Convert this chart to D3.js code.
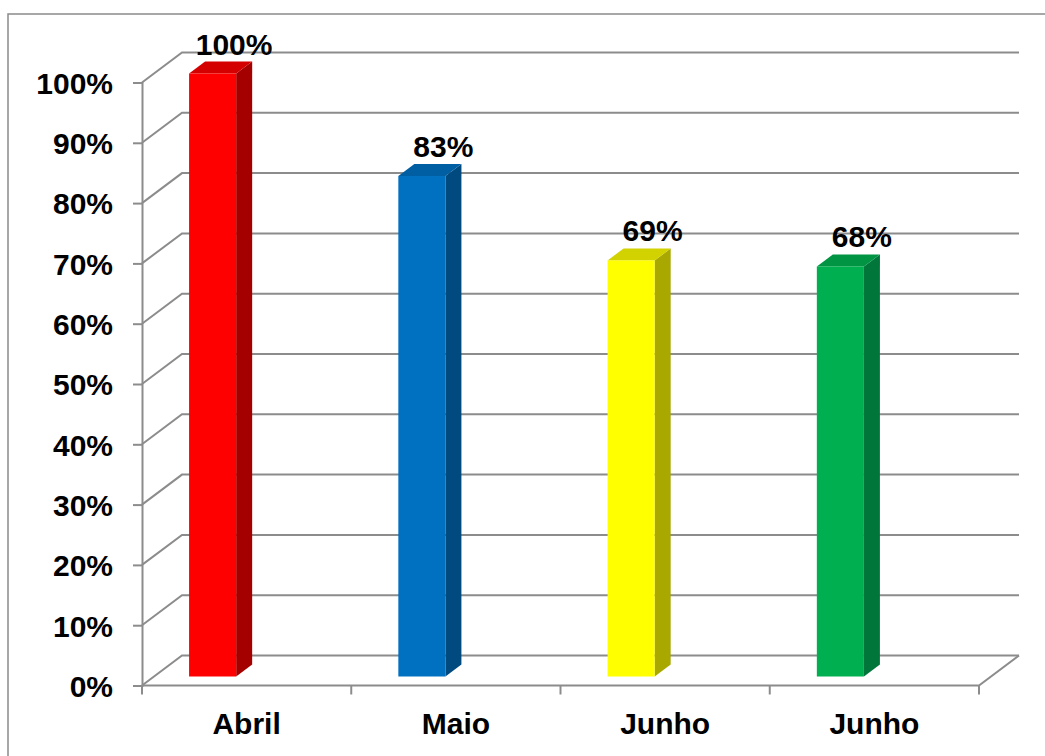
<!DOCTYPE html>
<html>
<head>
<meta charset="utf-8">
<script src="https://cdn.jsdelivr.net/npm/d3@7"></script>
<style>
  html, body { margin: 0; padding: 0; background: #fff; }
  svg { display: block; }
  text { font-family: "Liberation Sans", Arial, sans-serif; font-weight: bold; fill: #000; }
</style>
</head>
<body>
<svg id="chart" width="1045" height="756"></svg>
<script>
// Chart data
const categories = ["Abril", "Maio", "Junho", "Junho"];
const values = [1.00, 0.83, 0.69, 0.68];
const valueLabels = ["100%", "83%", "69%", "68%"];
const tickValues = [0, 0.1, 0.2, 0.3, 0.4, 0.5, 0.6, 0.7, 0.8, 0.9, 1.0];

// Face colours per bar: front, top, side
const frontColors = ["#ff0000", "#0070c0", "#ffff00", "#00b050"];
const topColors   = ["#d40000", "#005ea3", "#d2d200", "#009443"];
const sideColors  = ["#a50000", "#004a7f", "#a8a800", "#00763a"];

const svg = d3.select("#chart");
const gridColor = "#8c8c8c";
const fontSize = 30;

// 3D offsets: back wall depth and bar placement within the floor depth
const wallDx = 40, wallDy = -30;
const barDy = -9;                  // bar front face lift from the front plane
const depthDx = 16, depthDy = -12; // bar thickness

const y = d3.scaleLinear().domain([0, 1]).range([685.5, 82.5]);
const x = d3.scaleBand().domain(d3.range(categories.length)).range([142, 979]).padding(0);
const frontX0 = x.range()[0], frontX1 = x.range()[1];

// Outer chart border
svg.append("rect")
  .attr("x", 8).attr("y", 14).attr("width", 1060).attr("height", 780)
  .attr("fill", "none").attr("stroke", "#8a8a8a").attr("stroke-width", 1.5);

const grid = svg.append("g")
  .attr("fill", "none").attr("stroke", gridColor).attr("stroke-width", 2);

// Back wall gridlines with their diagonal side-wall segments
tickValues.forEach(t => {
  const yy = y(t);
  grid.append("path")
    .attr("d", `M${frontX0},${yy} L${frontX0 + wallDx},${yy + wallDy} L${frontX1 + wallDx},${yy + wallDy}`);
});

// Floor front edge and right diagonal
grid.append("path")
  .attr("d", `M${frontX0},${y(0)} L${frontX1},${y(0)} L${frontX1 + wallDx},${y(0) + wallDy}`);

// Value axis
const yAxis = d3.axisLeft(y).tickValues(tickValues).tickSize(9).tickPadding(20)
  .tickFormat(d => Math.round(d * 100) + "%");
const gy = svg.append("g").attr("transform", `translate(${frontX0},0)`).call(yAxis);
gy.select(".domain").attr("stroke", gridColor).attr("stroke-width", 2);
gy.selectAll(".tick line").attr("stroke", gridColor).attr("stroke-width", 2);
gy.selectAll(".tick text")
  .attr("font-size", fontSize).attr("font-family", "Liberation Sans, Arial, sans-serif")
  .attr("font-weight", "bold").attr("fill", "#000").attr("dy", "0.36em");

// Category axis
const xAxis = d3.axisBottom(x).tickSize(0).tickPadding(27).tickFormat(i => categories[i]);
const gx = svg.append("g").attr("transform", `translate(0,${y(0)})`).call(xAxis);
gx.select(".domain").remove();
gx.selectAll(".tick text")
  .attr("font-size", fontSize).attr("font-family", "Liberation Sans, Arial, sans-serif")
  .attr("font-weight", "bold").attr("fill", "#000");
// Category boundary tick marks
const boundaries = d3.range(categories.length).map(i => x(i)).concat([frontX1]);
svg.append("g").selectAll("line").data(boundaries).join("line")
  .attr("x1", d => d).attr("x2", d => d)
  .attr("y1", y(0)).attr("y2", y(0) + 9)
  .attr("stroke", gridColor).attr("stroke-width", 2);

// Bars
const barW = x.step() * 0.225;
const barOffset = x.step() * 0.225;
const bars = svg.append("g");
values.forEach((v, i) => {
  const l = x(i) + barOffset;
  const r = l + barW;
  const top = y(v) + barDy;
  const bot = y(0) + barDy;
  const g = bars.append("g");
  g.append("path") // side face
    .attr("d", `M${r},${top} L${r + depthDx},${top + depthDy} L${r + depthDx},${bot + depthDy} L${r},${bot} Z`)
    .attr("fill", sideColors[i]);
  g.append("path") // top face
    .attr("d", `M${l},${top} L${l + depthDx},${top + depthDy} L${r + depthDx},${top + depthDy} L${r},${top} Z`)
    .attr("fill", topColors[i]);
  g.append("rect") // front face
    .attr("x", l).attr("y", top).attr("width", barW).attr("height", bot - top)
    .attr("fill", frontColors[i]);
  g.append("text")
    .attr("x", l + 45).attr("y", top - 19)
    .attr("text-anchor", "middle").attr("font-size", fontSize)
    .text(valueLabels[i]);
});
</script>
</body>
</html>
